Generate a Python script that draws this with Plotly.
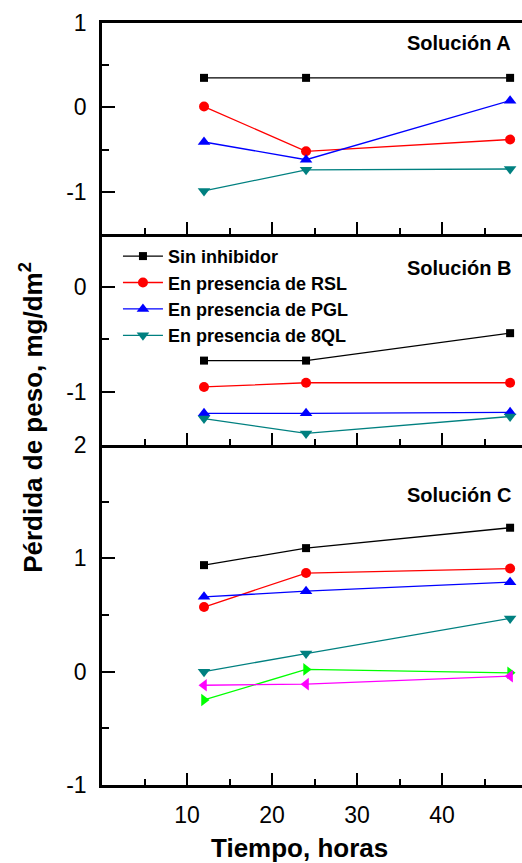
import plotly.graph_objects as go

# Tiempo de exposición (horas)
horas = [12, 24, 48]

# Solución A
a_sin = [0.35, 0.35, 0.35]
a_rsl = [0.01, -0.52, -0.38]
a_pgl = [-0.41, -0.62, 0.08]
a_8ql = [-0.99, -0.74, -0.73]

# Solución B
b_sin = [-0.70, -0.70, -0.44]
b_rsl = [-0.95, -0.91, -0.91]
b_pgl = [-1.20, -1.20, -1.19]
b_8ql = [-1.25, -1.39, -1.23]

# Solución C
c_sin = [0.94, 1.09, 1.27]
c_rsl = [0.57, 0.87, 0.91]
c_pgl = [0.66, 0.71, 0.79]
c_8ql = [0.00, 0.16, 0.47]
c_verde = [-0.25, 0.02, -0.01]
c_magenta = [-0.12, -0.11, -0.04]

# Marcas de los ejes
x_ticks = [10, 20, 30, 40]
ya_ticks = [-1, 0, 1]
yb_ticks = [-1, 0]
yc_ticks = [-1, 0, 1, 2]

nombres = ["Sin inhibidor", "En presencia de RSL", "En presencia de PGL", "En presencia de 8QL"]
colores = ["#000000", "#FF0000", "#0000FF", "#008080"]
simbolos = ["square", "circle", "triangle-up", "triangle-down"]
tamanos = [8, 10, 11, 11]

FONT = "Liberation Sans, Arial, sans-serif"


def rotulos(vals):
    # guion simple para los negativos
    return [str(v) for v in vals]


fig = go.Figure()

paneles = [
    ("x3", "y3", [a_sin, a_rsl, a_pgl, a_8ql], True),
    ("x2", "y2", [b_sin, b_rsl, b_pgl, b_8ql], False),
    ("x", "y", [c_sin, c_rsl, c_pgl, c_8ql], False),
]
for xa, ya, series, leyenda in paneles:
    for nombre, col, sim, tam, vals in zip(nombres, colores, simbolos, tamanos, series):
        fig.add_trace(go.Scatter(
            x=horas, y=vals, xaxis=xa, yaxis=ya, mode="lines+markers",
            name=nombre, showlegend=leyenda, legendgroup=nombre,
            line=dict(color=col, width=1.3),
            marker=dict(symbol=sim, size=tam, color=col),
        ))

for vals, col, sim in [(c_verde, "#00FF00", "triangle-right"), (c_magenta, "#FF00FF", "triangle-left")]:
    fig.add_trace(go.Scatter(
        x=horas, y=vals, xaxis="x", yaxis="y", mode="lines+markers", showlegend=False,
        line=dict(color=col, width=1.3),
        marker=dict(symbol=sim, size=11, color=col),
    ))

eje_x = dict(
    range=[0, 49.4], showline=True, linecolor="black", linewidth=2.5,
    ticks="inside", ticklen=12, tickwidth=2, tickcolor="black",
    tickmode="array", tickvals=x_ticks, ticktext=rotulos(x_ticks),
    minor=dict(ticks="inside", ticklen=6, tickwidth=2, tickcolor="black", dtick=5, tick0=0),
    showgrid=False, zeroline=False,
    tickfont=dict(family=FONT, size=23, color="black"),
)
eje_y = dict(
    showline=True, linecolor="black", linewidth=2.5,
    ticks="inside", ticklen=13, tickwidth=2, tickcolor="black", tickmode="array",
    minor=dict(ticks="inside", ticklen=7, tickwidth=2, tickcolor="black", dtick=0.5, tick0=0),
    showgrid=False, zeroline=False, ticklabelstandoff=8,
    tickfont=dict(family=FONT, size=23, color="black"),
)

dom_c = [0.0, 0.4462]
dom_b = [0.4462, 0.7231]
dom_a = [0.7231, 1.0]

fig.update_layout(
    width=522, height=863,
    margin=dict(l=102, r=0, t=23, b=78),
    paper_bgcolor="white", plot_bgcolor="white",
    font=dict(family=FONT, color="black"),
    xaxis=dict(eje_x, anchor="y", domain=[0, 1], showticklabels=True, ticklabelstandoff=8),
    xaxis2=dict(eje_x, anchor="y2", domain=[0, 1], showticklabels=False, matches="x"),
    xaxis3=dict(eje_x, anchor="y3", domain=[0, 1], showticklabels=False, matches="x", mirror=True),
    yaxis=dict(eje_y, anchor="x", domain=dom_c, range=[-1, 2],
               tickvals=yc_ticks, ticktext=rotulos(yc_ticks)),
    yaxis2=dict(eje_y, anchor="x2", domain=dom_b, range=[-1.5, 0.5],
                tickvals=yb_ticks, ticktext=rotulos(yb_ticks)),
    yaxis3=dict(eje_y, anchor="x3", domain=dom_a, range=[-1.5, 1],
                tickvals=ya_ticks, ticktext=rotulos(ya_ticks)),
    showlegend=True,
    legend=dict(
        x=0.038, y=0.718, xanchor="left", yanchor="top",
        bgcolor="rgba(0,0,0,0)", borderwidth=0,
        font=dict(family=FONT, size=18, color="black", weight="bold"),
        itemwidth=40, tracegroupgap=0,
    ),
)

etiquetas = [("Solución A", 0.974), ("Solución B", 0.678), ("Solución C", 0.381)]
for txt, yy in etiquetas:
    fig.add_annotation(
        text=f"<b>{txt}</b>", xref="paper", yref="paper", x=0.979, y=yy,
        xanchor="right", yanchor="middle", showarrow=False,
        font=dict(family=FONT, size=20, color="black"),
    )

fig.add_annotation(
    text="<b>Tiempo, horas</b>", xref="paper", yref="paper", x=0.471, y=-0.0827,
    xanchor="center", yanchor="middle", showarrow=False,
    font=dict(family=FONT, size=26, color="black"),
)
fig.add_annotation(
    text="<b>Pérdida de peso, mg/dm<sup>2</sup></b>", xref="paper", yref="paper",
    x=-0.167, y=0.483, xanchor="center", yanchor="middle", textangle=-90, showarrow=False,
    font=dict(family=FONT, size=26, color="black"),
)

fig.write_html("out.html")
